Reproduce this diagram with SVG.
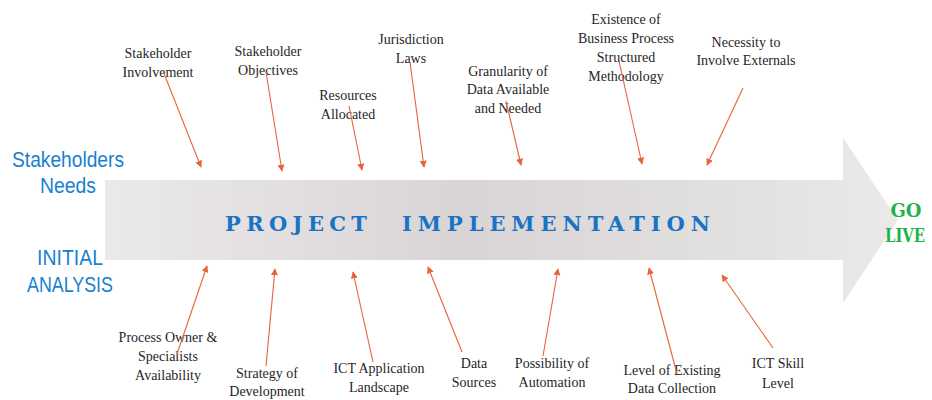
<svg xmlns="http://www.w3.org/2000/svg" width="932" height="400" viewBox="0 0 932 400">
  <style>
    .lbl { font-family: "Liberation Serif", "DejaVu Serif", serif; font-size: 14px; fill: #262626; text-anchor: middle; }
    .side { font-family: "Liberation Sans", Arial, sans-serif; font-size: 22px; fill: #1a7fd0; text-anchor: middle; }
    .title { font-family: "DejaVu Serif", "Liberation Serif", serif; font-weight: bold; font-size: 21px; fill: #1a73c4; }
    .live { font-family: "DejaVu Serif", "Liberation Serif", serif; font-weight: bold; font-size: 18px; fill: #1fb24a; text-anchor: middle; }
    .conn { stroke: #e8623a; stroke-width: 1.1; fill: none; marker-end: url(#tip); }
  </style>
  <defs>
    <linearGradient id="band" gradientUnits="userSpaceOnUse" x1="105" y1="0" x2="898" y2="0">
      <stop offset="0" stop-color="#ece9ea"/>
      <stop offset="0.45" stop-color="#d9d5d6"/>
      <stop offset="0.8" stop-color="#e3e0e0"/>
      <stop offset="1" stop-color="#ebe9e9"/>
    </linearGradient>
    <marker id="tip" viewBox="0 0 10 10" refX="9" refY="5" markerWidth="7" markerHeight="7" markerUnits="userSpaceOnUse" orient="auto">
      <path d="M0,0 L10,5 L0,10 Z" fill="#e8623a"/>
    </marker>
  </defs>

  <rect width="932" height="400" fill="#ffffff"/>

  <!-- main process arrow -->
  <g id="project-arrow">
    <path d="M105,180 H843 V138 L898,220 L843,303 V260 H105 Z" fill="url(#band)"/>
    <text class="title" x="225" y="231" textLength="142" lengthAdjust="spacing">PROJECT</text>
    <text class="title" x="402" y="231" textLength="308" lengthAdjust="spacing">IMPLEMENTATION</text>
  </g>

  <!-- side captions -->
  <g id="stakeholders-needs">
    <text class="side" x="68" y="167" textLength="112" lengthAdjust="spacingAndGlyphs">Stakeholders</text>
    <text class="side" x="68" y="193" textLength="56" lengthAdjust="spacingAndGlyphs">Needs</text>
  </g>
  <g id="initial-analysis">
    <text class="side" x="70" y="265" textLength="66" lengthAdjust="spacingAndGlyphs">INITIAL</text>
    <text class="side" x="70" y="292" textLength="86" lengthAdjust="spacingAndGlyphs">ANALYSIS</text>
  </g>
  <g id="go-live">
    <text class="live" x="906" y="217">GO</text>
    <text class="live" x="905" y="242" textLength="40" lengthAdjust="spacingAndGlyphs">LIVE</text>
  </g>

  <!-- factors above the arrow -->
  <g id="stakeholder-involvement">
    <text class="lbl" x="158" y="58">Stakeholder</text>
    <text class="lbl" x="158" y="77">Involvement</text>
  </g>
  <g id="stakeholder-objectives">
    <text class="lbl" x="268" y="56">Stakeholder</text>
    <text class="lbl" x="268" y="75">Objectives</text>
  </g>
  <g id="resources-allocated">
    <text class="lbl" x="348" y="100">Resources</text>
    <text class="lbl" x="348" y="119">Allocated</text>
  </g>
  <g id="jurisdiction-laws">
    <text class="lbl" x="411" y="44">Jurisdiction</text>
    <text class="lbl" x="411" y="63">Laws</text>
  </g>
  <g id="data-granularity">
    <text class="lbl" x="508" y="76">Granularity of</text>
    <text class="lbl" x="508" y="94">Data Available</text>
    <text class="lbl" x="508" y="113">and Needed</text>
  </g>
  <g id="business-process">
    <text class="lbl" x="626" y="24">Existence of</text>
    <text class="lbl" x="626" y="43">Business Process</text>
    <text class="lbl" x="626" y="62">Structured</text>
    <text class="lbl" x="626" y="81">Methodology</text>
  </g>
  <g id="involve-externals">
    <text class="lbl" x="746" y="47">Necessity to</text>
    <text class="lbl" x="746" y="65">Involve Externals</text>
  </g>

  <!-- factors below the arrow -->
  <g id="process-owner">
    <text class="lbl" x="168" y="342">Process Owner &amp;</text>
    <text class="lbl" x="168" y="361">Specialists</text>
    <text class="lbl" x="168" y="380">Availability</text>
  </g>
  <g id="development-strategy">
    <text class="lbl" x="267" y="378">Strategy of</text>
    <text class="lbl" x="267" y="396">Development</text>
  </g>
  <g id="ict-landscape">
    <text class="lbl" x="379" y="373">ICT Application</text>
    <text class="lbl" x="379" y="392">Landscape</text>
  </g>
  <g id="data-sources">
    <text class="lbl" x="474" y="368">Data</text>
    <text class="lbl" x="474" y="387">Sources</text>
  </g>
  <g id="automation">
    <text class="lbl" x="552" y="368">Possibility of</text>
    <text class="lbl" x="552" y="387">Automation</text>
  </g>
  <g id="data-collection">
    <text class="lbl" x="672" y="375">Level of Existing</text>
    <text class="lbl" x="672" y="393">Data Collection</text>
  </g>
  <g id="ict-skill">
    <text class="lbl" x="778" y="368">ICT Skill</text>
    <text class="lbl" x="778" y="388">Level</text>
  </g>

  <!-- connectors -->
  <g id="connectors">
    <line class="conn" x1="163" y1="71" x2="201" y2="167"/>
    <line class="conn" x1="266" y1="72" x2="282" y2="171"/>
    <line class="conn" x1="349" y1="106" x2="362" y2="170"/>
    <line class="conn" x1="410" y1="62" x2="424" y2="167"/>
    <line class="conn" x1="506" y1="101" x2="521" y2="165"/>
    <line class="conn" x1="619" y1="61" x2="642" y2="164"/>
    <line class="conn" x1="743" y1="88" x2="707" y2="165"/>

    <line class="conn" x1="177" y1="354" x2="207" y2="266"/>
    <line class="conn" x1="266" y1="366" x2="275" y2="269"/>
    <line class="conn" x1="373" y1="362" x2="353" y2="272"/>
    <line class="conn" x1="462" y1="352" x2="428" y2="267"/>
    <line class="conn" x1="543" y1="356" x2="558" y2="269"/>
    <line class="conn" x1="677" y1="374" x2="649" y2="268"/>
    <line class="conn" x1="773" y1="348" x2="722" y2="275"/>
  </g>
</svg>
